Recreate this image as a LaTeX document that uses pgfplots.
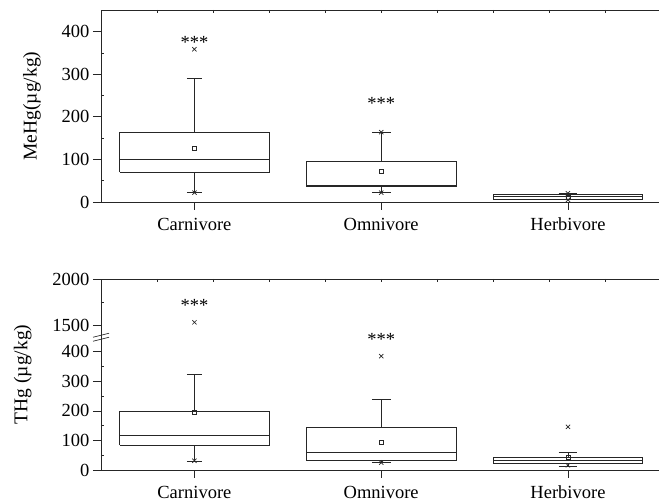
\documentclass[border=0pt]{standalone}
\usepackage{pgfplots}
\pgfplotsset{compat=1.18}
\usepackage{fontspec}
\setmainfont{Liberation Serif}
\begin{document}
\begin{tikzpicture}[font=\fontsize{18.5}{21}\selectfont]
\pgfplotsset{
  panel/.style={
    scale only axis, width=558.5pt, anchor=south west,
    xmin=0.5, xmax=3.49,
    xtick={1,2,3}, xticklabels={Carnivore,Omnivore,Herbivore},
    xtick pos=left, ytick pos=left,
    tick align=outside,
    major tick length=8pt,
    axis line style={line width=0.7pt, black!85},
    tick style={line width=0.7pt, black!85},
    /pgf/number format/assume math mode=true,
    xticklabel style={yshift=-10pt, text height=1.6ex, text depth=0.3ex},
    ylabel style={font=\fontsize{19.5}{22}\selectfont},
    ylabel shift=6pt,
    extra y tick labels={},
    extra y tick style={tick align=inside, major tick length=3pt},
    unbounded coords=jump,
    clip=false,
  },
  bx/.style={black!85, line width=0.7pt, mark=none},
  mk/.style={black!85, only marks, mark=x, mark size=3pt, mark options={line width=0.7pt}},
  mn/.style={black!85, only marks, mark=square, mark size=2pt, mark options={line width=0.6pt}},
}
% ---------- top panel: MeHg ----------
\begin{axis}[panel, at={(101pt,300pt)}, height=192pt,
  ymin=0, ymax=451, ytick={0,100,200,300,400},
  extra y ticks={50,150,250,350},
  ylabel={MeHg(µg/kg)}]
% Carnivore: whiskers 22/290, quartiles 70/163, median 99
\addplot[bx] coordinates {(0.6,70) (1.4,70) (1.4,163) (0.6,163) (0.6,70) (nan,nan)
  (0.6,99) (1.4,99) (nan,nan) (1,163) (1,290) (nan,nan) (0.96,290) (1.04,290) (nan,nan)
  (1,70) (1,22) (nan,nan) (0.96,22) (1.04,22)};
% Omnivore: whiskers 22/164, quartiles 37/95, median 40
\addplot[bx] coordinates {(1.6,37) (2.4,37) (2.4,95) (1.6,95) (1.6,37) (nan,nan)
  (1.6,40) (2.4,40) (nan,nan) (2,95) (2,164) (nan,nan) (1.95,164) (2.05,164) (nan,nan)
  (2,37) (2,22) (nan,nan) (1.95,22) (2.05,22)};
% Herbivore: whiskers 5.5/20, quartiles 7/18, median 12.5
\addplot[bx] coordinates {(2.6,7) (3.4,7) (3.4,18) (2.6,18) (2.6,7) (nan,nan)
  (2.6,12.5) (3.4,12.5) (nan,nan) (3,18) (3,20) (nan,nan) (2.95,20) (3.05,20) (nan,nan)
  (3,7) (3,5.5) (nan,nan) (2.95,5.5) (3.05,5.5)};
\addplot[mk] coordinates {(1,22) (1,359) (2,22) (2,164) (3,5) (3,20.5)};
\addplot[mn] coordinates {(1,125) (2,72) (3,12)};
\node at (axis cs:1,374) {***};
\node at (axis cs:2,231) {***};
\pgfplotsinvokeforeach{0.8,1.1,1.4,1.7,2.0,2.3,2.6,2.9,3.2}{\draw[line width=0.7pt, black!85] (axis cs:#1,451) -- ([yshift=-3pt]axis cs:#1,451);}
\end{axis}
% ---------- bottom panel: THg (broken axis: above the break, plotted y = 490+(v-1500)*0.311) ----------
\begin{axis}[panel, at={(101pt,32pt)}, height=191pt,
  ymin=0, ymax=646, ytick={0,100,200,300,400,490,646},
  yticklabels={0,100,200,300,400,1500,2000},
  extra y ticks={50,150,250,350,568},
  ylabel={THg (µg/kg)}]
% Carnivore: whiskers 28/324, quartiles 84/200, median 117
\addplot[bx] coordinates {(0.6,84) (1.4,84) (1.4,200) (0.6,200) (0.6,84) (nan,nan)
  (0.6,117) (1.4,117) (nan,nan) (1,200) (1,324) (nan,nan) (0.96,324) (1.04,324) (nan,nan)
  (1,84) (1,28) (nan,nan) (0.96,28) (1.04,28)};
% Omnivore: whiskers 25/240, quartiles 34/143, median 60
\addplot[bx] coordinates {(1.6,34) (2.4,34) (2.4,143) (1.6,143) (1.6,34) (nan,nan)
  (1.6,60) (2.4,60) (nan,nan) (2,143) (2,240) (nan,nan) (1.95,240) (2.05,240) (nan,nan)
  (2,34) (2,25) (nan,nan) (1.95,25) (2.05,25)};
% Herbivore: whiskers 11/58, quartiles 23/43, median 31
\addplot[bx] coordinates {(2.6,23) (3.4,23) (3.4,43) (2.6,43) (2.6,23) (nan,nan)
  (2.6,31) (3.4,31) (nan,nan) (3,43) (3,58) (nan,nan) (2.95,58) (3.05,58) (nan,nan)
  (3,23) (3,11) (nan,nan) (2.95,11) (3.05,11)};
\addplot[mk] coordinates {(1,31) (2,25) (2,385) (3,16) (3,146)};
\addplot[mk, y filter/.expression={y>1000 ? 490+(y-1500)*0.311 : y}] coordinates {(1,1530)};
\addplot[mn] coordinates {(1,196) (2,94) (3,44)};
\node at (axis cs:1,557) {***};
\node at (axis cs:2,442) {***};
\pgfplotsinvokeforeach{0.8,1.1,1.4,1.7,2.0,2.3,2.6,2.9,3.2}{\draw[line width=0.7pt, black!85] (axis cs:#1,646) -- ([yshift=-3pt]axis cs:#1,646);}
\draw[line width=0.7pt, black!85] ([xshift=-8pt,yshift=-4pt]axis cs:0.5,449) -- ([xshift=8pt,yshift=0pt]axis cs:0.5,449);
\draw[line width=0.7pt, black!85] ([xshift=-8pt,yshift=0pt]axis cs:0.5,449) -- ([xshift=8pt,yshift=4pt]axis cs:0.5,449);
\end{axis}
\pgfresetboundingbox
\useasboundingbox (0,0) rectangle (659pt,502pt);
\end{tikzpicture}
\end{document}
